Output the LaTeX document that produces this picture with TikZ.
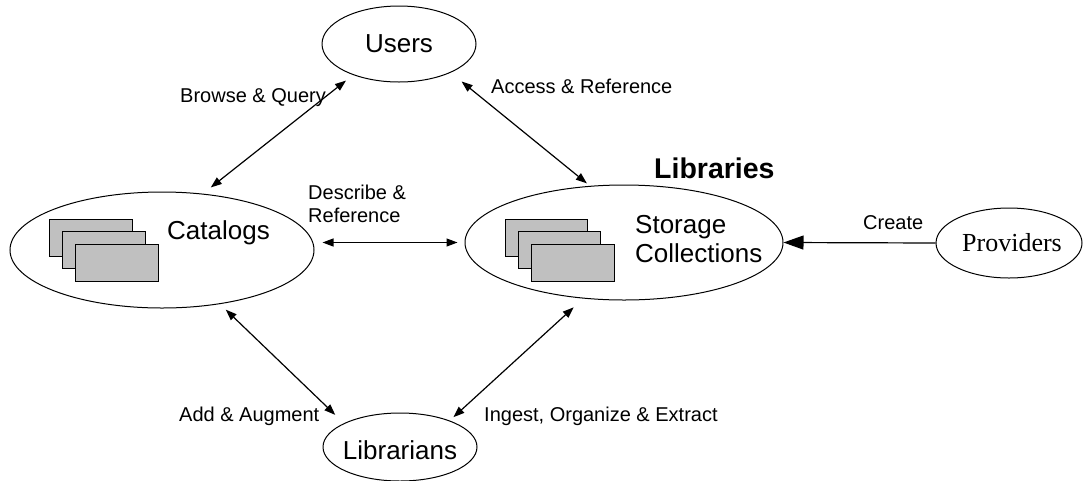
\documentclass[tikz,border=0pt]{standalone}
\usepackage{fontspec}
\setmainfont{Liberation Sans}
\newfontfamily\provfont{Liberation Serif}
\usetikzlibrary{arrows.meta,shapes.geometric,calc}
\definecolor{docgray}{RGB}{192,192,192}
\begin{document}
\begin{tikzpicture}[x=1pt,y=-1pt,
  bubble/.style={draw, ellipse, line width=1pt, inner sep=0pt},
  big/.style={font=\fontsize{26}{29}\selectfont},
  small/.style={font=\fontsize{20}{23}\selectfont},
  lbl/.style={small, inner sep=0pt, anchor=base west},
  tip/.style={Triangle[length=11pt,width=8pt]},
  biarrow/.style={line width=1.2pt, {Triangle[length=11pt,width=8pt]}-{Triangle[length=11pt,width=8pt]}},
  doc/.style={draw, fill=docgray, line width=0.9pt},
]
\useasboundingbox (0,0) rectangle (1083,480);

% ellipses
\node[bubble, big, minimum width=154pt, minimum height=76pt] (users) at (399,44) {Users};
\node[bubble, minimum width=304pt, minimum height=116pt] (cat) at (162,250) {};
\node[bubble, minimum width=318pt, minimum height=115pt] (stor) at (624,242.5) {};
\node[bubble, minimum width=146pt, minimum height=70pt] (prov) at (1009,243) {};
\node[bubble, minimum width=154pt, minimum height=68pt] (lib) at (400,447) {};

% texts inside ellipses
\node[font=\provfont\fontsize{26}{29}\selectfont, inner sep=0pt] (provtxt) at (1012,243) {Providers};
\node[big, inner sep=0pt] (libtxt) at (400,450) {Librarians};
\node[big, inner sep=0pt, anchor=base] (cattxt) at (218.5,239.4) {Catalogs};
\node[big, inner sep=0pt, anchor=base west] (stortxt1) at (635,233.4) {Storage};
\node[big, inner sep=0pt, anchor=base west] (stortxt2) at (635,262.4) {Collections};
\node[font=\bfseries\fontsize{28.5}{32}\selectfont, inner sep=0pt, anchor=base west] (libraries) at (654,178) {Libraries};

% document stacks
\draw[doc] (49,219) rectangle ++(83,37);
\draw[doc] (62,231.5) rectangle ++(83,37);
\draw[doc] (75,244) rectangle ++(83,37);
\draw[doc] (505,219) rectangle ++(82,37);
\draw[doc] (518,231.5) rectangle ++(82,37);
\draw[doc] (531,244) rectangle ++(83,37);

% connectors
\draw[biarrow, shorten <=9pt, shorten >=10pt] (users.214) -- (cat.54);
\draw[biarrow, shorten <=14pt, shorten >=4pt] (users.331) -- (stor.121);
\draw[biarrow] ($(cat.east |- stor.west)+(8,0)$) -- ($(stor.west)+(-7,0)$);
\draw[biarrow, shorten <=8pt, shorten >=12pt] (cat.317) -- (lib.157);
\draw[biarrow, shorten <=13pt, shorten >=5pt] (stor.234) -- (lib.28);
\draw[line width=1.2pt, -{Triangle[length=20pt,width=14pt]}] (prov.west) -- (stor.east);

% labels
\node[lbl] (lbq) at (180,102) {Browse \& Query};
\node[lbl] (lar) at (491,93) {Access \& Reference};
\node[lbl] (ldr1) at (308,199) {Describe \&};
\node[lbl] (ldr2) at (308,222) {Reference};
\node[lbl] (lcr) at (863,229) {Create};
\node[lbl] (laa) at (179,421) {Add \& Augment};
\node[lbl] (lio) at (484,421) {Ingest, Organize \& Extract};
\end{tikzpicture}
\end{document}
